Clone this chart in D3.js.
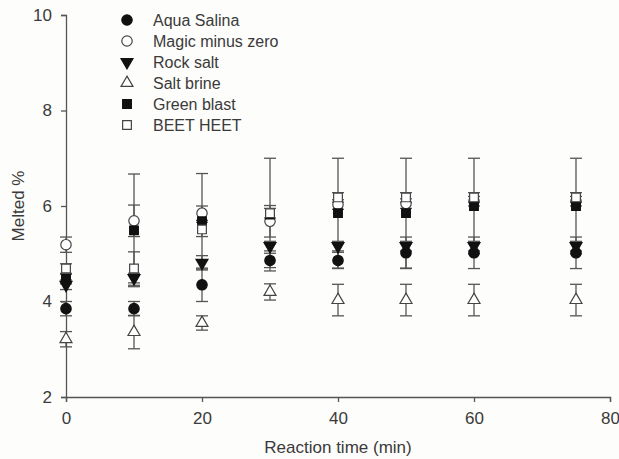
<!DOCTYPE html>
<html>
<head>
<meta charset="utf-8">
<script src="https://cdn.jsdelivr.net/npm/d3@7"></script>
<style>
  body { margin: 0; background: #fdfdfb; }
  text { font-family: "Liberation Sans", Arial, sans-serif; fill: #3a3a3a; }
</style>
</head>
<body>
<div id="chart"></div>
<script>
// reaction times (min)
const times = [0, 10, 20, 30, 40, 50, 60, 75];

// melted % per product, with error (+/-)
const aquaSalina = [3.85, 3.85, 4.35, 4.86, 4.86, 5.02, 5.02, 5.02];
const aquaSalinaErr = [0.15, 0.15, 0.35, 0.15, 0.17, 0.33, 0.33, 0.33];
const magicMinusZero = [5.19, 5.69, 5.85, 5.68, 6.03, 6.05, 6.1, 6.1];
const magicMinusZeroErr = [0.16, 0.33, 0.15, 0.33, 0.1, 0.1, 0.1, 0.1];
const rockSalt = [4.35, 4.49, 4.81, 5.16, 5.16, 5.16, 5.16, 5.16];
const rockSaltErr = [0.1, 0.1, 0.15, 0.1, 0.1, 0.1, 0.1, 0.1];
const saltBrine = [3.21, 3.36, 3.55, 4.2, 4.03, 4.03, 4.03, 4.03];
const saltBrineErr = [0.16, 0.35, 0.15, 0.17, 0.33, 0.33, 0.33, 0.33];
const greenBlast = [4.47, 5.49, 5.68, 5.82, 5.85, 5.85, 6.0, 6.0];
const greenBlastErr = [0.1, 1.18, 1.0, 1.18, 1.15, 1.15, 1.0, 1.0];
const beetHeet = [4.69, 4.69, 5.51, 5.85, 6.18, 6.18, 6.18, 6.18];
const beetHeetErr = [0.1, 0.35, 0.15, 0.1, 0.1, 0.1, 0.1, 0.1];

const seriesNames = ['Aqua Salina', 'Magic minus zero', 'Rock salt', 'Salt brine', 'Green blast', 'BEET HEET'];
const xTicks = [0, 20, 40, 60, 80];
const yTicks = [2, 4, 6, 8, 10];

const series = [
  { name: seriesNames[0], values: aquaSalina, err: aquaSalinaErr, symbol: d3.symbolCircle, size: 85, filled: true, rot: 0 },
  { name: seriesNames[1], values: magicMinusZero, err: magicMinusZeroErr, symbol: d3.symbolCircle, size: 85, filled: false, rot: 0 },
  { name: seriesNames[2], values: rockSalt, err: rockSaltErr, symbol: d3.symbolTriangle, size: 62, filled: true, rot: 180 },
  { name: seriesNames[3], values: saltBrine, err: saltBrineErr, symbol: d3.symbolTriangle, size: 62, filled: false, rot: 0 },
  { name: seriesNames[4], values: greenBlast, err: greenBlastErr, symbol: d3.symbolSquare, size: 76, filled: true, rot: 0 },
  { name: seriesNames[5], values: beetHeet, err: beetHeetErr, symbol: d3.symbolSquare, size: 76, filled: false, rot: 0 },
];

const width = 619;
const height = 459;
const margin = { top: 15, right: 9, bottom: 62, left: 66 };
const innerW = width - margin.left - margin.right;
const innerH = height - margin.top - margin.bottom;
const lineColor = '#555';

const svg = d3.select('#chart').append('svg')
  .attr('width', width)
  .attr('height', height);

const chart = svg.append('g')
  .attr('transform', `translate(${margin.left},${margin.top})`);

const xScale = d3.scaleLinear().domain([0, 80]).range([0, innerW]);
const yScale = d3.scaleLinear().domain([2, 10]).range([innerH, 0]);

// axes
const xAxisG = chart.append('g')
  .attr('transform', `translate(0,${innerH})`)
  .call(d3.axisBottom(xScale).tickValues(xTicks).tickSizeOuter(0).tickSize(5).tickPadding(10));
const yAxisG = chart.append('g')
  .call(d3.axisLeft(yScale).tickValues(yTicks).tickSizeOuter(0).tickSize(5).tickPadding(9));

[xAxisG, yAxisG].forEach((g) => {
  g.selectAll('path, line').attr('stroke', lineColor).attr('stroke-width', 1.3);
  g.selectAll('text').style('font-size', '17px').attr('fill', '#3a3a3a');
});

// axis titles
svg.append('text')
  .attr('x', margin.left + innerW / 2)
  .attr('y', 453)
  .attr('text-anchor', 'middle')
  .style('font-size', '17px')
  .text('Reaction time (min)');

svg.append('text')
  .attr('transform', `translate(24,${margin.top + innerH / 2}) rotate(-90)`)
  .attr('text-anchor', 'middle')
  .style('font-size', '17px')
  .text('Melted %');

// error bars first, symbols on top
const capW = 6;
series.forEach((s) => {
  const g = chart.append('g');
  times.forEach((t, i) => {
    const x = xScale(t);
    const hi = yScale(s.values[i] + s.err[i]);
    const lo = yScale(s.values[i] - s.err[i]);
    g.append('line').attr('x1', x).attr('x2', x).attr('y1', hi).attr('y2', lo);
    g.append('line').attr('x1', x - capW).attr('x2', x + capW).attr('y1', hi).attr('y2', hi);
    g.append('line').attr('x1', x - capW).attr('x2', x + capW).attr('y1', lo).attr('y2', lo);
  });
  g.selectAll('line').attr('stroke', lineColor).attr('stroke-width', 1.3);
});

function drawSymbol(sel, s, x, y) {
  sel.append('path')
    .attr('d', d3.symbol().type(s.symbol).size(s.size)())
    .attr('transform', `translate(${x},${y}) rotate(${s.rot})`)
    .attr('fill', s.filled ? '#111' : '#fff')
    .attr('stroke', s.filled ? '#111' : '#444')
    .attr('stroke-width', 1.2);
}

series.forEach((s) => {
  const g = chart.append('g');
  times.forEach((t, i) => drawSymbol(g, s, xScale(t), yScale(s.values[i])));
});

// legend
const legend = svg.append('g').attr('transform', 'translate(127,20)');
series.forEach((s, i) => {
  const row = legend.append('g').attr('transform', `translate(0,${i * 21})`);
  drawSymbol(row, s, 0, 0);
  row.append('text')
    .attr('x', 26)
    .attr('y', 0)
    .attr('dy', '0.35em')
    .style('font-size', '16px')
    .text(s.name);
});
</script>
</body>
</html>
